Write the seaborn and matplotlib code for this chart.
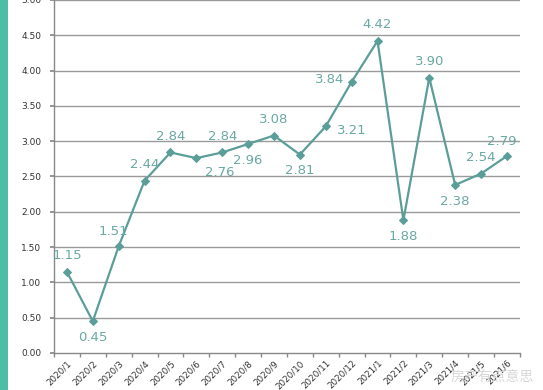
import matplotlib
matplotlib.use("Agg")
import matplotlib.pyplot as plt
import seaborn as sns
import pandas as pd
from matplotlib.patches import Rectangle

months = ["2020/1", "2020/2", "2020/3", "2020/4", "2020/5", "2020/6", "2020/7", "2020/8",
          "2020/9", "2020/10", "2020/11", "2020/12", "2021/1", "2021/2", "2021/3",
          "2021/4", "2021/5", "2021/6"]
values = [1.15, 0.45, 1.51, 2.44, 2.84, 2.76, 2.84, 2.96, 3.08, 2.81, 3.21, 3.84,
          4.42, 1.88, 3.90, 2.38, 2.54, 2.79]
label_pos = ["above", "below", "aboveleft", "above", "above", "belowright", "above", "below",
             "above", "below", "right", "left", "above", "below", "above", "below",
             "above", "aboveleft"]
y_ticks = [0.0, 0.5, 1.0, 1.5, 2.0, 2.5, 3.0, 3.5, 4.0, 4.5, 5.0]

sns.set_theme(style="white")
plt.rcParams['font.family'] = ['DejaVu Sans', 'Noto Sans CJK SC']

df = pd.DataFrame({"month": months, "value": values, "x": range(len(months))})

fig = plt.figure(figsize=(5.43, 3.90), dpi=100)
fig.patch.set_facecolor("white")
ax = fig.add_axes([0.0994, 0.095, 0.858, 0.905])

line_color = "#5b9e99"
label_color = "#6aa8a3"

for t in y_ticks[1:]:
    ax.axhline(t, color="#9a9a9a", lw=1.0, zorder=0)

sns.lineplot(data=df, x="x", y="value", ax=ax, color=line_color, lw=1.6,
             marker="D", markersize=4, markeredgecolor=line_color, zorder=3)

offsets = {"above": (0, 7, "center", "bottom"),
           "below": (0, -7, "center", "top"),
           "aboveleft": (-4, 6, "center", "bottom"),
           "belowright": (6, -6, "left", "top"),
           "right": (8, -3, "left", "center"),
           "left": (-5, 2, "right", "center")}
for xi, v, p in zip(df["x"], values, label_pos):
    dx, dy, ha, va = offsets[p]
    ax.annotate(f"{v:.2f}", (xi, v), xytext=(dx, dy), textcoords="offset points",
                ha=ha, va=va, fontsize=9.5, color=label_color)

ax.set_xlim(-0.5, len(months) - 0.5)
ax.set_ylim(0, 5.0)
ax.set_yticks(y_ticks)
ax.set_yticklabels([f"{t:.2f}" for t in y_ticks], fontsize=6.5, color="#333333")
ax.set_xticks(list(range(len(months))))
ax.set_xticklabels(months, rotation=45, ha="right", rotation_mode="anchor",
                   fontsize=6.3, color="#333333")
ax.set_xlabel("")
ax.set_ylabel("")
ax.tick_params(axis="x", length=0, pad=4)
ax.tick_params(axis="y", length=3, color="#888888", left=True, pad=6)
ax.set_xticks([i - 0.5 for i in range(len(months) + 1)], minor=True)
ax.tick_params(axis="x", which="minor", length=3, color="#888888", bottom=True)

for s in ["top", "right"]:
    ax.spines[s].set_visible(False)
ax.spines["left"].set_color("#888888")
ax.spines["bottom"].set_color("#888888")
ax.spines["left"].set_linewidth(1.0)
ax.spines["bottom"].set_linewidth(1.0)

fig.add_artist(Rectangle((0, 0), 8 / 543, 1, transform=fig.transFigure,
                         facecolor="#4dbda6", edgecolor="none"))
fig.text(0.83, 0.035, "房产有点意思", fontsize=10, color="#d8d8d8",
         family=["Noto Sans CJK SC"], ha="left", va="center")

fig.savefig("out.png", dpi=100)
